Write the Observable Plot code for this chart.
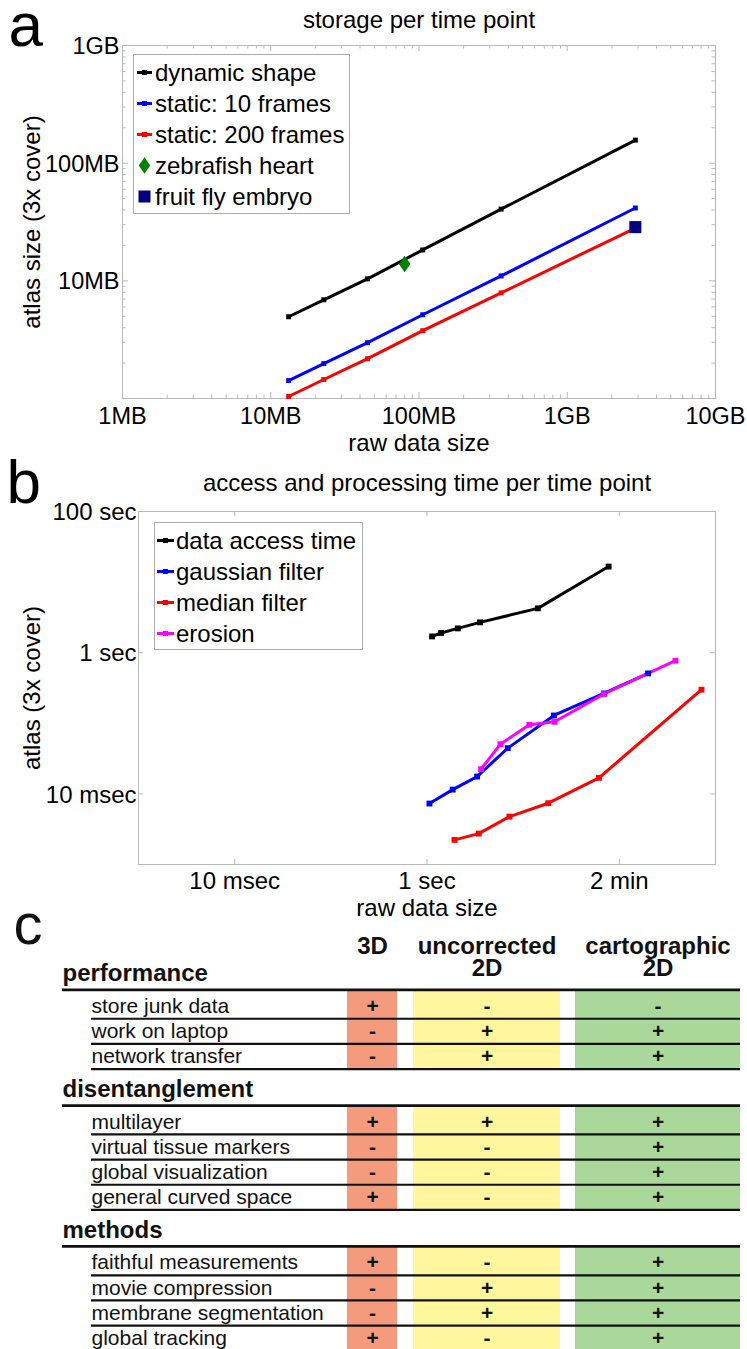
<!DOCTYPE html>
<html>
<head>
<meta charset="utf-8">
<script src="https://cdn.jsdelivr.net/npm/d3@7"></script>
<script src="https://cdn.jsdelivr.net/npm/@observablehq/plot@0.6"></script>
<style>
html, body { margin: 0; padding: 0; background: #fff; }
#page { position: relative; width: 747px; height: 1349px; overflow: hidden; background: #fff; }
#page > svg { position: absolute; left: 0; }
</style>
</head>
<body>
<div id="page"></div>
<script>
// ================= DATA =================
// ---- panel a: storage per time point ----
const aSeriesNames = ["dynamic shape", "static: 10 frames", "static: 200 frames"];
const aSeriesColors = ["#000000", "#0000ff", "#ff0000"];
const aRawMB = [13.2, 22.8, 45, 106, 358, 2880];
const aDynamicMB = [4.95, 6.9, 10.4, 18.3, 40.7, 157];
const aStatic10MB = [1.42, 1.98, 2.98, 5.15, 11.0, 41.6];
const aStatic200MB = [1.04, 1.45, 2.18, 3.77, 7.9, 28.1];
const aSpecimenNames = ["zebrafish heart", "fruit fly embryo"];
const aSpecimenColors = ["#008000", "#000080"];
const aSpecimenRawMB = [80, 2880];
const aSpecimenAtlasMB = [13.9, 28.6];
const aXTicks = [1, 10, 100, 1000, 10000];
const aXTickLabels = ["1MB", "10MB", "100MB", "1GB", "10GB"];
const aYTicks = [10, 100, 1000];
const aYTickLabels = ["10MB", "100MB", "1GB"];

// ---- panel b: access and processing time per time point ----
const bSeriesNames = ["data access time", "gaussian filter", "median filter", "erosion"];
const bSeriesColors = ["#000000", "#0000ff", "#ff0000", "#ff00ff"];
const bAccessX = [1.13, 1.40, 2.09, 3.56, 14.2, 77.4];
const bAccessY = [1.70, 1.90, 2.21, 2.69, 4.25, 16.6];
const bGaussX = [1.06, 1.85, 3.32, 6.92, 20.9, 69, 199];
const bGaussY = [0.0073, 0.0115, 0.0176, 0.0445, 0.129, 0.265, 0.509];
const bMedianX = [1.93, 3.45, 7.2, 18.2, 61.4, 715];
const bMedianY = [0.00223, 0.00274, 0.00477, 0.00738, 0.0169, 0.299];
const bErosionX = [3.65, 5.8, 11.6, 21.2, 69, 383];
const bErosionY = [0.0224, 0.0507, 0.0952, 0.105, 0.26, 0.77];
const bTicks = [0.01, 1, 100];
const bXTickLabels = ["10 msec", "1 sec", "2 min"];
const bYTickLabels = ["10 msec", "1 sec", "100 sec"];

// ---- panel c: comparison table ----
const cColumns = ["3D", "uncorrected\n2D", "cartographic\n2D"];
const cColumnColors = ["#f59b7d", "#fff69d", "#aad89b"];
const cSections = ["performance", "disentanglement", "methods"];
const cRowLabels = [
  ["store junk data", "work on laptop", "network transfer"],
  ["multilayer", "virtual tissue markers", "global visualization", "general curved space"],
  ["faithful measurements", "movie compression", "membrane segmentation", "global tracking"]
];
const cMarks3D = [["+", "-", "-"], ["+", "-", "-", "+"], ["+", "-", "-", "+"]];
const cMarksUncorrected = [["-", "+", "+"], ["+", "-", "-", "-"], ["-", "+", "+", "-"]];
const cMarksCartographic = [["-", "+", "+"], ["+", "+", "+", "+"], ["+", "+", "+", "+"]];

// ================= STYLE / LAYOUT =================
const FONT = '"Liberation Sans", Arial, Helvetica, sans-serif';
const W = 747;
const AXIS_GRAY = "#b9b9b9";
const page = document.getElementById("page");

function minorLogTicks(lo, hi) {
  const t = [];
  for (let p = lo; p < hi; p *= 10) for (let m = 2; m < 10; m++) t.push(p * m);
  return t;
}

function boxTicks(innerW, innerH, xs, ys, len) {
  return [
    Plot.tickX(xs, {x: d => d, stroke: AXIS_GRAY, insetTop: innerH - len}),
    Plot.tickX(xs, {x: d => d, stroke: AXIS_GRAY, insetBottom: innerH - len}),
    Plot.tickY(ys, {y: d => d, stroke: AXIS_GRAY, insetRight: innerW - len}),
    Plot.tickY(ys, {y: d => d, stroke: AXIS_GRAY, insetLeft: innerW - len})
  ];
}

const tallDiamond = {
  draw(ctx, size) {
    const s = Math.sqrt(size), hw = s * 0.36, hh = s * 0.52;
    ctx.moveTo(0, -hh); ctx.lineTo(hw, 0); ctx.lineTo(0, hh); ctx.lineTo(-hw, 0); ctx.closePath();
  }
};

function place(svg, top) {
  svg.style.position = "absolute";
  svg.style.top = top + "px";
  svg.style.left = "0px";
  page.appendChild(svg);
}

function drawLegend(box, items) {
  const svg = d3.select(page).append("svg")
    .attr("width", box.width + 2).attr("height", box.height + 2)
    .style("position", "absolute").style("left", box.left + "px").style("top", box.top + "px")
    .style("overflow", "visible");
  svg.append("rect").attr("x", 0.5).attr("y", 0.5).attr("width", box.width).attr("height", box.height)
    .attr("fill", "#fff").attr("stroke", "#adadad");
  items.forEach((it, i) => {
    const cy = 18.5 + i * 31;
    const cx = (box.sw0 + box.sw1) / 2;
    if (it.kind === "line") {
      svg.append("line").attr("x1", box.sw0).attr("x2", box.sw1).attr("y1", cy).attr("y2", cy)
        .attr("stroke", it.color).attr("stroke-width", 3);
      svg.append("rect").attr("x", cx - 2.5).attr("y", cy - 2.5).attr("width", 5).attr("height", 5).attr("fill", it.color);
    } else if (it.kind === "diamond") {
      svg.append("path").attr("d", `M${cx},${cy - 8.3}L${cx + 5.7},${cy}L${cx},${cy + 8.3}L${cx - 5.7},${cy}Z`).attr("fill", it.color);
    } else {
      svg.append("rect").attr("x", cx - 6).attr("y", cy - 6).attr("width", 12).attr("height", 12).attr("fill", it.color);
    }
    svg.append("text").attr("x", box.tx).attr("y", cy + 8).text(it.label)
      .style("font-family", FONT).style("font-size", "24px").attr("fill", "#000");
  });
}

// ================= PANEL A =================
const aFrame = {top: 45, bottom: 398, left: 122, right: 715, height: 460};
const aInnerW = aFrame.right - aFrame.left, aInnerH = aFrame.bottom - aFrame.top;
const aAtlas = [aDynamicMB, aStatic10MB, aStatic200MB];
const aLines = aSeriesNames.flatMap((series, i) => aRawMB.map((raw, j) => ({series, raw, atlas: aAtlas[i][j]})));
const aSpec = aSpecimenNames.map((name, i) => ({name, raw: aSpecimenRawMB[i], atlas: aSpecimenAtlasMB[i], color: aSpecimenColors[i]}));
const aXTickData = aXTicks.map((v, i) => ({v, label: aXTickLabels[i]}));
const aYTickData = aYTicks.map((v, i) => ({v, label: aYTickLabels[i]}));

const plotA = Plot.plot({
  width: W, height: aFrame.height,
  marginTop: aFrame.top, marginRight: W - aFrame.right, marginBottom: aFrame.height - aFrame.bottom, marginLeft: aFrame.left,
  x: {type: "log", domain: [1, 10000], axis: null},
  y: {type: "log", domain: [1, 1000], axis: null},
  color: {domain: aSeriesNames, range: aSeriesColors},
  style: {fontFamily: FONT, fontSize: "23.5px", background: "transparent", overflow: "visible", color: "#000"},
  marks: [
    ...boxTicks(aInnerW, aInnerH, aXTicks, [1, ...aYTicks], 6),
    ...boxTicks(aInnerW, aInnerH, minorLogTicks(1, 10000), minorLogTicks(1, 1000), 3.5),
    Plot.frame({stroke: AXIS_GRAY}),
    Plot.line(aLines, {x: "raw", y: "atlas", z: "series", stroke: "series", strokeWidth: 3}),
    Plot.dot(aLines, {x: "raw", y: "atlas", fill: "series", symbol: "square", r: 2.8}),
    Plot.dot(aSpec.slice(0, 1), {x: "raw", y: "atlas", fill: aSpecimenColors[0], symbol: tallDiamond, r: 9}),
    Plot.dot(aSpec.slice(1, 2), {x: "raw", y: "atlas", fill: aSpecimenColors[1], symbol: "square", r: 6.8}),
    Plot.text(aXTickData, {x: "v", text: "label", frameAnchor: "bottom", lineAnchor: "bottom", dy: 25}),
    Plot.text(aYTickData, {y: "v", text: "label", frameAnchor: "left", textAnchor: "end", lineAnchor: "middle", dx: -3, dy: 1}),
    Plot.text(["storage per time point"], {text: d => d, frameAnchor: "top", lineAnchor: "bottom", dy: -18, fontSize: 24}),
    Plot.text(["raw data size"], {text: d => d, frameAnchor: "bottom", lineAnchor: "bottom", dy: 52, fontSize: 24}),
    Plot.text(["atlas size (3x cover)"], {text: d => d, frameAnchor: "left", textAnchor: "middle", rotate: -90, lineAnchor: "bottom", dx: -83, fontSize: 24}),
    Plot.text(["a"], {text: d => d, frameAnchor: "top-left", textAnchor: "start", lineAnchor: "bottom", dx: -114, dy: 0, fontSize: 62})
  ]
});
place(plotA, 0);

drawLegend({left: 133, top: 54, width: 216, height: 159, sw0: 4, sw1: 19, tx: 22}, [
  ...aSeriesNames.map((label, i) => ({kind: "line", color: aSeriesColors[i], label})),
  {kind: "diamond", color: aSpecimenColors[0], label: aSpecimenNames[0]},
  {kind: "square", color: aSpecimenColors[1], label: aSpecimenNames[1]}
]);

// ================= PANEL B =================
const bTop = 460;
const bFrame = {top: 51, bottom: 404, left: 138, right: 715, height: 460};
const bInnerW = bFrame.right - bFrame.left, bInnerH = bFrame.bottom - bFrame.top;
const bXs = [bAccessX, bGaussX, bMedianX, bErosionX];
const bYs = [bAccessY, bGaussY, bMedianY, bErosionY];
const bLines = bSeriesNames.flatMap((series, i) => bXs[i].map((x, j) => ({series, x, y: bYs[i][j]})));
const bXTickData = bTicks.map((v, i) => ({v, label: bXTickLabels[i]}));
const bYTickData = bTicks.map((v, i) => ({v, label: bYTickLabels[i]}));

const plotB = Plot.plot({
  width: W, height: bFrame.height,
  marginTop: bFrame.top, marginRight: W - bFrame.right, marginBottom: bFrame.height - bFrame.bottom, marginLeft: bFrame.left,
  x: {type: "log", domain: [0.001, 1000], axis: null},
  y: {type: "log", domain: [0.001, 100], axis: null},
  color: {domain: bSeriesNames, range: bSeriesColors},
  style: {fontFamily: FONT, fontSize: "24px", background: "transparent", overflow: "visible", color: "#000"},
  marks: [
    ...boxTicks(bInnerW, bInnerH, bTicks, bTicks, 5),
    Plot.frame({stroke: AXIS_GRAY}),
    Plot.line(bLines, {x: "x", y: "y", z: "series", stroke: "series", strokeWidth: 3}),
    Plot.dot(bLines, {x: "x", y: "y", fill: "series", symbol: "square", r: 3.3}),
    Plot.text(bXTickData, {x: "v", text: "label", frameAnchor: "bottom", lineAnchor: "bottom", dy: 24}),
    Plot.text(bYTickData, {y: "v", text: "label", frameAnchor: "left", textAnchor: "end", lineAnchor: "middle", dx: -2, dy: 1}),
    Plot.text(["access and processing time per time point"], {text: d => d, frameAnchor: "top", lineAnchor: "bottom", dy: -21, fontSize: 24}),
    Plot.text(["raw data size"], {text: d => d, frameAnchor: "bottom", lineAnchor: "bottom", dy: 51, fontSize: 24}),
    Plot.text(["atlas (3x cover)"], {text: d => d, frameAnchor: "left", textAnchor: "middle", rotate: -90, lineAnchor: "bottom", dx: -99, fontSize: 24}),
    Plot.text(["b"], {text: d => d, frameAnchor: "top-left", textAnchor: "start", lineAnchor: "bottom", dx: -132, dy: -9, fontSize: 62})
  ]
});
place(plotB, bTop);

drawLegend({left: 154, top: 522, width: 208, height: 127, sw0: 3, sw1: 20, tx: 22},
  bSeriesNames.map((label, i) => ({kind: "line", color: bSeriesColors[i], label})));

// ================= PANEL C =================
const cTop = 900, cHeight = 449;
const cLayout = {
  headingX: 62, labelX: 91, ruleEnd: 740,
  colX: [[347, 397], [413, 560], [575, 740]],
  firstY: 73, unit: 25.15, headStep: 1.3, sectionGap: 0.3
};
const colCenter = c => (cLayout.colX[c][0] + cLayout.colX[c][1]) / 2;
const cMarksByCol = [cMarks3D, cMarksUncorrected, cMarksCartographic];

const cHeadings = [], cRows = [], cCells = [], cRowRules = [], cSectionRules = [], cFills = [];
let cursor = 0;
cSections.forEach((name, s) => {
  cHeadings.push({name, u: cursor});
  const ruleU = cursor + cLayout.headStep / 2;
  cSectionRules.push(ruleU);
  cursor += cLayout.headStep;
  cRowLabels[s].forEach((label, r) => {
    cRows.push({label, u: cursor});
    cMarksByCol.forEach((m, c) => cCells.push({u: cursor, c, mark: m[s][r]}));
    cRowRules.push(cursor + 0.5);
    cursor += 1;
  });
  cColumns.forEach((col, c) => cFills.push({c, y1: ruleU, y2: cursor - 0.5}));
  cursor += cLayout.sectionGap;
});
const cHeaderData = cColumns.map((label, c) => ({label, c}));

const plotC = Plot.plot({
  width: W, height: cHeight, margin: 0,
  x: {type: "linear", domain: [0, W], range: [0, W], axis: null},
  y: {type: "linear", domain: [0, 1], range: [cLayout.firstY, cLayout.firstY + cLayout.unit], axis: null},
  style: {fontFamily: FONT, fontSize: "21px", background: "transparent", overflow: "visible", color: "#111"},
  marks: [
    Plot.rect(cFills, {x1: d => cLayout.colX[d.c][0], x2: d => cLayout.colX[d.c][1], y1: "y1", y2: "y2", fill: d => cColumnColors[d.c]}),
    Plot.ruleY(cRowRules, {y: d => d, x1: () => cLayout.labelX, x2: () => cLayout.ruleEnd, stroke: "#111", strokeWidth: 2.2}),
    Plot.ruleY(cSectionRules, {y: d => d, x1: () => cLayout.headingX, x2: () => cLayout.ruleEnd, stroke: "#111", strokeWidth: 2.8}),
    Plot.text(cHeadings, {x: () => cLayout.headingX, y: "u", text: "name", textAnchor: "start", lineAnchor: "middle", fontWeight: "bold", fontSize: 24}),
    Plot.text(cRows, {x: () => cLayout.labelX, y: "u", text: "label", textAnchor: "start", lineAnchor: "middle", fontSize: 21}),
    Plot.text(cCells, {x: d => colCenter(d.c), y: "u", text: "mark", lineAnchor: "middle", fontWeight: "bold", fontSize: 21}),
    Plot.text(cHeaderData, {x: d => colCenter(d.c), text: "label", frameAnchor: "top", lineAnchor: "top", dy: 38, lineHeight: 0.92, fontWeight: "bold", fontSize: 24}),
    Plot.text(["c"], {text: d => d, frameAnchor: "top-left", textAnchor: "start", lineAnchor: "bottom", dx: 13, dy: 43, fontSize: 58})
  ]
});
place(plotC, cTop);
</script>
</body>
</html>
